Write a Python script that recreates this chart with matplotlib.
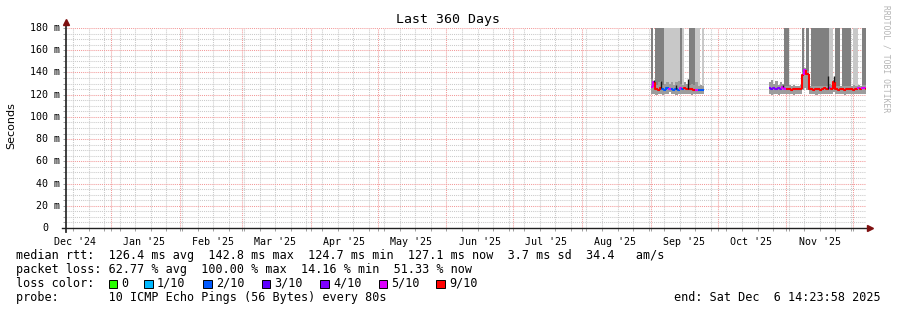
import datetime as dt
import numpy as np
import matplotlib
matplotlib.use('Agg')
import matplotlib.pyplot as plt
import matplotlib.dates as mdates
import matplotlib.transforms as mtransforms
from matplotlib.collections import LineCollection
from matplotlib.patches import Rectangle
from matplotlib.ticker import MultipleLocator

end = dt.datetime(2025, 12, 6, 14, 23, 58)
start = end - dt.timedelta(days=360)

loss_labels = ['0', '1/10', '2/10', '3/10', '4/10', '5/10', '9/10']
loss_colors = ['#26ff00', '#00b8ff', '#0059ff', '#5e00ff', '#7e00ff', '#dd00ff', '#ff0000']

# block 1: daily values from Sep 1 (smoke: 0 none, 1 light, 2 dark, up to the top)
b1_start = dt.datetime(2025, 9, 1)
b1_smoke = [2, 0, 2, 2, 2, 2, 1, 1, 1, 1, 1, 1, 1, 2, 1, 0, 0, 2, 2, 2, 1, 1, 0, 1]
b1_lo = [121, 121, 120, 121, 121, 120, 121, 121, 122, 121, 121, 120,
         121, 121, 121, 121, 121, 121, 120, 121, 121, 121, 121, 121]
b1_hi = [134, 130, 129, 131, 132, 129, 130, 131, 130, 131, 129, 131,
         132, 130, 129, 131, 130, 129, 130, 129, 131, 128, 129, 128]
b1_median = [127, 131, 125, 124, 126, 125, 124, 126, 125, 125, 124, 125,
             124, 126, 125, 126, 125, 125, 125, 124, 124, 124, 124, 124]
b1_loss = [5, 5, 6, 6, 6, 2, 2, 2, 5, 2, 2, 2, 2, 5, 2, 6, 6, 6, 6, 6, 5, 2, 2, 2]
b1_spike = [0, 133, 0, 0, 132, 0, 0, 0, 0, 0, 0, 129, 0, 0, 0, 0, 134, 0, 0, 0, 0, 0, 0, 0]

# block 2: daily values from Oct 24
b2_start = dt.datetime(2025, 10, 24)
b2_smoke = [0, 0, 0, 0, 0, 0, 0, 2, 2, 0, 0, 0, 0, 0, 0, 2, 0, 2, 0,
            2, 2, 2, 2, 2, 2, 2, 2, 1, 1, 0, 2, 2, 0, 2, 2, 2, 2, 0, 1, 1, 0, 0, 2, 2, 2]
b2_lo = [121, 120, 121, 121, 120, 121, 121, 121, 121, 121, 121, 120, 121, 121, 121,
         124, 126, 124, 121, 121, 121, 120, 121, 121, 121, 121, 121, 121, 121,
         122, 121, 121, 121, 121, 120, 121, 121, 121, 121, 121, 121, 121, 121, 121, 121]
b2_hi = [131, 133, 130, 132, 129, 131, 130, 128, 128, 129, 128, 129, 128, 128, 129,
         140, 144, 141, 128, 128, 128, 128, 128, 128, 128, 128, 128, 130, 129,
         133, 128, 128, 128, 128, 128, 128, 128, 128, 129, 128, 129, 128, 129, 129, 128]
b2_median = [126, 125, 126, 125, 126, 125, 127, 125, 125, 125, 124, 125, 125, 125, 125,
             138, 142, 139, 125, 125, 124, 125, 125, 124, 125, 126, 125, 126, 125,
             131, 125, 124, 125, 125, 124, 125, 125, 125, 124, 125, 126, 125, 126, 126, 125]
b2_loss = [4, 3, 4, 4, 4, 4, 5, 5, 6, 6, 6, 6, 6, 6, 6,
           6, 5, 6, 6, 6, 6, 6, 6, 6, 6, 6, 6, 5, 6,
           6, 6, 6, 6, 6, 6, 6, 6, 6, 6, 6, 5, 6, 5, 5, 6]
b2_spike = [0, 0, 0, 0, 0, 0, 129, 0, 0, 0, 0, 0, 0, 0, 0,
            0, 0, 0, 0, 0, 0, 0, 0, 0, 0, 0, 137, 0, 0,
            137, 0, 0, 0, 0, 0, 0, 0, 0, 0, 0, 0, 0, 0, 0, 0]

legend_lines = [
    'median rtt:  126.4 ms avg  142.8 ms max  124.7 ms min  127.1 ms now  3.7 ms sd  34.4   am/s',
    'packet loss: 62.77 % avg  100.00 % max  14.16 % min  51.33 % now',
    'loss color:',
    'probe:       10 ICMP Echo Pings (56 Bytes) every 80s',
]
end_text = 'end: Sat Dec  6 14:23:58 2025'

W, H = 897, 310
fig = plt.figure(figsize=(W / 100, H / 100), dpi=100)
fig.patch.set_facecolor('white')
ax = fig.add_axes([65.5 / W, (H - 228) / H, 800 / W, 200 / H])
ax.set_xlim(start, end)
ax.set_ylim(0, 180)
for s in ax.spines.values():
    s.set_visible(False)

# grid (below the data)
ax.set_axisbelow(True)
ax.xaxis.set_major_locator(mdates.MonthLocator(bymonthday=1))
ax.xaxis.set_minor_locator(mdates.WeekdayLocator(byweekday=mdates.SU))
ax.yaxis.set_major_locator(MultipleLocator(20))
ax.yaxis.set_minor_locator(MultipleLocator(5))
ax.set_xticklabels([])
ax.set_yticklabels([])
ax.grid(which='minor', color='#cacaca', lw=0.75, ls=(0, (1, 1)))
ax.grid(which='major', color='#f29a9a', lw=0.75, ls=(0, (1, 1)))
ax.tick_params(which='both', length=2.5, width=0.7, color='#a0a0a0', pad=2)


def draw_block(t0, smoke, lo, hi, med, loss, spike):
    n = len(med)
    x = mdates.date2num(t0) + np.arange(n)
    smoke = np.array(smoke)
    lo = np.array(lo, float)
    hi = np.array(hi, float)
    med = np.array(med, float)
    for lvl, col in ((1, '#c8c8c8'), (2, '#808080')):
        m = smoke == lvl
        ax.bar(x[m], 180 - lo[m], bottom=lo[m], width=1, align='edge',
               color=col, lw=0, zorder=1)
    ax.bar(x, hi - lo, bottom=lo, width=1, align='edge', color='#9c9c9c', lw=0, zorder=1.2)
    segs, cols = [], []
    for i in range(n):
        y0 = med[i - 1] if i else med[i]
        segs.append([(x[i], y0), (x[i], med[i]), (x[i] + 1, med[i])])
        cols.append(loss_colors[loss[i]])
    ax.add_collection(LineCollection(segs, colors=cols, lw=1.5, zorder=3))
    sp = np.array(spike, float)
    k = sp > 0
    ax.vlines(x[k] + 0.5, med[k], sp[k], color='#1a1a1a', lw=1.0, zorder=3.5)


draw_block(b1_start, b1_smoke, b1_lo, b1_hi, b1_median, b1_loss, b1_spike)
draw_block(b2_start, b2_smoke, b2_lo, b2_hi, b2_median, b2_loss, b2_spike)

# axis lines with arrows
ax.plot([0, 0], [-0.02, 1.02], transform=ax.transAxes, color='#303030', lw=1.3,
        clip_on=False, zorder=5)
ax.plot([-0.004, 1.003], [0, 0], transform=ax.transAxes, color='#202020', lw=1.0,
        clip_on=False, zorder=5)
ax.plot(0, 1.03, marker='^', color='#7f1010', ms=4.5, transform=ax.transAxes,
        clip_on=False, zorder=6)
ax.plot(1.0056, 0, marker='>', color='#7f1010', ms=4.5, transform=ax.transAxes,
        clip_on=False, zorder=6)

mono = 'DejaVu Sans Mono'

# y labels
for v in range(0, 181, 20):
    lab = f'{v} m' if v else '0'
    dx = -5.5 if v else -17.5
    tr = ax.get_yaxis_transform() + mtransforms.ScaledTranslation(dx / 100, 0, fig.dpi_scale_trans)
    ax.text(0, v, lab, transform=tr, ha='right', va='center', family=mono, size=7.2)

# x labels at mid-month
for d in mdates.MonthLocator(bymonthday=16).tick_values(start, end):
    dd = mdates.num2date(d)
    if start.timestamp() <= dd.timestamp() <= end.timestamp():
        ax.text(d, -0.045, dd.strftime("%b '%y"), transform=ax.get_xaxis_transform(),
                ha='center', va='top', family=mono, size=7.2)

fig.text(447.5 / W, 1 - 20 / H, 'Last 360 Days', ha='center', va='center', family=mono, size=9.5)
fig.text(11 / W, 1 - 126 / H, 'Seconds', rotation=90, ha='center', va='center',
         family='DejaVu Sans', size=8)
fig.text(886 / W, 1 - 59 / H, 'RRDTOOL / TOBI OETIKER', rotation=270, ha='center',
         va='center', family=mono, size=5.8, color='#b4b4b4')

rows = [255, 269.2, 283.5, 297.7]
for y, line in zip(rows, legend_lines):
    fig.text(16 / W, 1 - y / H, line, ha='left', va='center', family=mono, size=8.5)
fig.text(881 / W, 1 - rows[3] / H, end_text, ha='right', va='center', family=mono, size=8.5)

sw_x = [108.5, 144, 203, 261.6, 320, 378.6, 436]
for sx, c, lab in zip(sw_x, loss_colors, loss_labels):
    fig.patches.append(Rectangle((sx / W, 1 - (rows[2] + 4.5) / H), 8.5 / W, 8.5 / H,
                                 transform=fig.transFigure, facecolor=c,
                                 edgecolor='black', lw=0.7))
    fig.text((sx + 13) / W, 1 - rows[2] / H, lab, ha='left', va='center', family=mono, size=8.5)

fig.savefig('out.png', dpi=100, facecolor='white')
